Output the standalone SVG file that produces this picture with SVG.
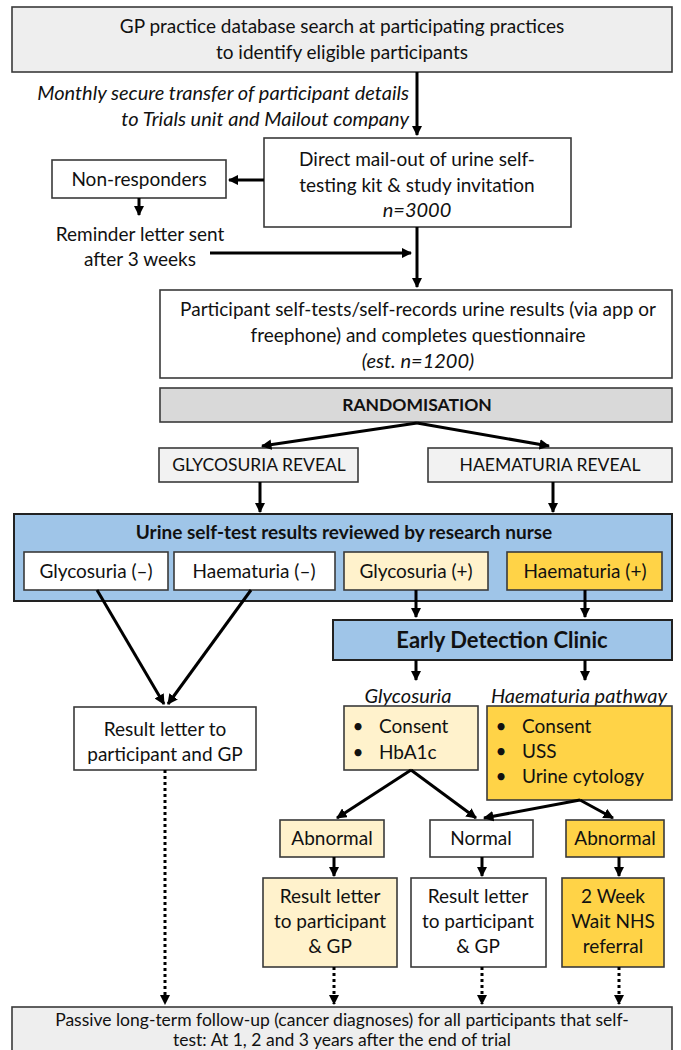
<svg xmlns="http://www.w3.org/2000/svg" width="681" height="1050" viewBox="0 0 681 1050">
<defs>
<marker id="ah" viewBox="0 0 10 10" refX="9" refY="5" markerWidth="3.5" markerHeight="3.5" orient="auto" markerUnits="strokeWidth">
<path d="M0,0 L10,5 L0,10 z" fill="#000"/>
</marker>
<style>
text{font-family:Lato,"Open Sans","Liberation Sans",sans-serif;font-size:19px;fill:#111;text-anchor:middle;}
.it{font-style:italic;font-size:20px;}
.b{font-weight:bold;}
.caps{font-size:17.5px;}
.foot{font-size:17.5px;}
.box{stroke:#3a3a3a;stroke-width:1.6;}
.gray{fill:#eeeeee;}
.white{fill:#ffffff;}
.rnd{fill:#d9d9d9;}
.rev{fill:#f2f2f2;}
.blue{fill:#9fc5e8;stroke:#222;stroke-width:2;}
.ly{fill:#fff2cc;}
.dy{fill:#ffd347;}
.con line{stroke:#000;stroke-width:3;fill:none;}
.con .dot{stroke-dasharray:3 3;}
</style>
</defs>

<g id="gp-search">
<rect class="box gray" x="12" y="7" width="660" height="65"/>
<text x="342" y="33">GP practice database search at participating practices</text>
<text x="342" y="59">to identify eligible participants</text>
</g>

<g id="transfer-label">
<text class="it" x="409" y="100" style="text-anchor:end">Monthly secure transfer of participant details</text>
<text class="it" x="409" y="126" style="text-anchor:end">to Trials unit and Mailout company</text>
</g>

<g id="mailout">
<rect class="box white" x="264" y="138" width="307" height="89"/>
<text x="417" y="166">Direct mail-out of urine self-</text>
<text x="417" y="192">testing kit &amp; study invitation</text>
<text class="it" x="417" y="217">n=3000</text>
</g>

<g id="non-responders">
<rect class="box white" x="52" y="160" width="174" height="38"/>
<text x="139" y="186">Non-responders</text>
</g>

<g id="reminder">
<text x="140" y="241">Reminder letter sent</text>
<text x="140" y="266">after 3 weeks</text>
</g>

<g id="self-test">
<rect class="box white" x="160" y="290" width="512" height="88"/>
<text x="418" y="316">Participant self-tests/self-records urine results (via app or</text>
<text x="418" y="342">freephone) and completes questionnaire</text>
<text class="it" x="418" y="368">(est. n=1200)</text>
</g>

<g id="randomisation">
<rect class="box rnd" x="160" y="388" width="512" height="34"/>
<text class="b caps" x="417" y="411">RANDOMISATION</text>
</g>

<g id="glyc-reveal">
<rect class="box rev" x="159" y="448" width="199" height="34"/>
<text class="caps" x="259" y="471">GLYCOSURIA REVEAL</text>
</g>

<g id="haem-reveal">
<rect class="box rev" x="428" y="448" width="244" height="34"/>
<text class="caps" x="550" y="471">HAEMATURIA REVEAL</text>
</g>

<g id="review">
<rect class="blue" x="14" y="514" width="658" height="87"/>
<text class="b" x="344" y="539">Urine self-test results reviewed by research nurse</text>
</g>

<g id="glyc-neg">
<rect class="box white" x="24" y="552" width="144" height="38"/>
<text x="96" y="578">Glycosuria (–)</text>
</g>
<g id="haem-neg">
<rect class="box white" x="174" y="552" width="161" height="38"/>
<text x="254" y="578">Haematuria (–)</text>
</g>
<g id="glyc-pos">
<rect class="box ly" x="344" y="552" width="144" height="38"/>
<text x="416" y="578">Glycosuria (+)</text>
</g>
<g id="haem-pos">
<rect class="box dy" x="507" y="552" width="155" height="38"/>
<text x="585" y="578">Haematuria (+)</text>
</g>

<g id="clinic">
<rect class="blue" x="333" y="620" width="339" height="40"/>
<text class="b" x="502" y="648" style="font-size:22px">Early Detection Clinic</text>
</g>

<g id="glyc-label"><text class="it" x="408" y="703">Glycosuria</text></g>
<g id="haem-label"><text class="it" x="579" y="703">Haematuria pathway</text></g>

<g id="result-letter-neg">
<rect class="box white" x="74" y="707" width="182" height="63"/>
<text x="165" y="736">Result letter to</text>
<text x="165" y="761">participant and GP</text>
</g>

<g id="glyc-tests">
<rect class="box ly" x="344" y="706" width="134" height="64"/>
<text x="358" y="733">•</text><text x="379" y="733" style="text-anchor:start">Consent</text>
<text x="358" y="759">•</text><text x="379" y="759" style="text-anchor:start">HbA1c</text>
</g>

<g id="haem-tests">
<rect class="box dy" x="487" y="706" width="185" height="94"/>
<text x="501" y="733">•</text><text x="522" y="733" style="text-anchor:start">Consent</text>
<text x="501" y="758">•</text><text x="522" y="758" style="text-anchor:start">USS</text>
<text x="501" y="783">•</text><text x="522" y="783" style="text-anchor:start">Urine cytology</text>
</g>

<g id="glyc-abnormal">
<rect class="box ly" x="280" y="820" width="104" height="37"/>
<text x="332" y="845">Abnormal</text>
</g>
<g id="normal">
<rect class="box white" x="430" y="820" width="103" height="37"/>
<text x="481" y="845">Normal</text>
</g>
<g id="haem-abnormal">
<rect class="box dy" x="566" y="820" width="98" height="37"/>
<text x="615" y="845">Abnormal</text>
</g>

<g id="glyc-letter">
<rect class="box ly" x="263" y="878" width="134" height="89"/>
<text x="330" y="903">Result letter</text>
<text x="330" y="928">to participant</text>
<text x="330" y="953">&amp; GP</text>
</g>
<g id="normal-letter">
<rect class="box white" x="411" y="878" width="135" height="89"/>
<text x="478" y="903">Result letter</text>
<text x="478" y="928">to participant</text>
<text x="478" y="953">&amp; GP</text>
</g>
<g id="referral">
<rect class="box dy" x="562" y="878" width="102" height="89"/>
<text x="613" y="903">2 Week</text>
<text x="613" y="928">Wait NHS</text>
<text x="613" y="953">referral</text>
</g>

<g id="follow-up">
<rect class="box gray" x="12" y="1007" width="660" height="50"/>
<text class="foot" x="342" y="1026">Passive long-term follow-up (cancer diagnoses) for all participants that self-</text>
<text class="foot" x="342" y="1046">test: At 1, 2 and 3 years after the end of trial</text>
</g>

<g id="connectors" class="con">
<line x1="417" y1="72" x2="417" y2="135" marker-end="url(#ah)"/>
<line x1="264" y1="180" x2="229" y2="180" marker-end="url(#ah)"/>
<line x1="139" y1="198" x2="139" y2="215" marker-end="url(#ah)"/>
<line x1="210" y1="253" x2="411" y2="253" marker-end="url(#ah)"/>
<line x1="417" y1="227" x2="417" y2="287" marker-end="url(#ah)"/>
<line x1="417" y1="423" x2="262" y2="446" marker-end="url(#ah)"/>
<line x1="417" y1="423" x2="549" y2="446" marker-end="url(#ah)"/>
<line x1="260" y1="482" x2="260" y2="512" marker-end="url(#ah)"/>
<line x1="553" y1="482" x2="553" y2="512" marker-end="url(#ah)"/>
<line x1="416" y1="590" x2="416" y2="617" marker-end="url(#ah)"/>
<line x1="585" y1="590" x2="585" y2="617" marker-end="url(#ah)"/>
<line x1="97" y1="590" x2="164" y2="704" marker-end="url(#ah)"/>
<line x1="251" y1="590" x2="168" y2="704" marker-end="url(#ah)"/>
<line x1="416" y1="660" x2="416" y2="680" marker-end="url(#ah)"/>
<line x1="585" y1="660" x2="585" y2="680" marker-end="url(#ah)"/>
<line x1="411" y1="770" x2="337" y2="818" marker-end="url(#ah)"/>
<line x1="411" y1="770" x2="476" y2="818" marker-end="url(#ah)"/>
<line x1="580" y1="800" x2="484" y2="818" marker-end="url(#ah)"/>
<line x1="580" y1="800" x2="613" y2="818" marker-end="url(#ah)"/>
<line x1="334" y1="857" x2="334" y2="876" marker-end="url(#ah)"/>
<line x1="482" y1="857" x2="482" y2="876" marker-end="url(#ah)"/>
<line x1="619" y1="857" x2="619" y2="876" marker-end="url(#ah)"/>
<line class="dot" x1="165" y1="770" x2="165" y2="1004" marker-end="url(#ah)"/>
<line class="dot" x1="334" y1="967" x2="334" y2="1004" marker-end="url(#ah)"/>
<line class="dot" x1="482" y1="967" x2="482" y2="1004" marker-end="url(#ah)"/>
<line class="dot" x1="619" y1="967" x2="619" y2="1004" marker-end="url(#ah)"/>
</g>
</svg>
